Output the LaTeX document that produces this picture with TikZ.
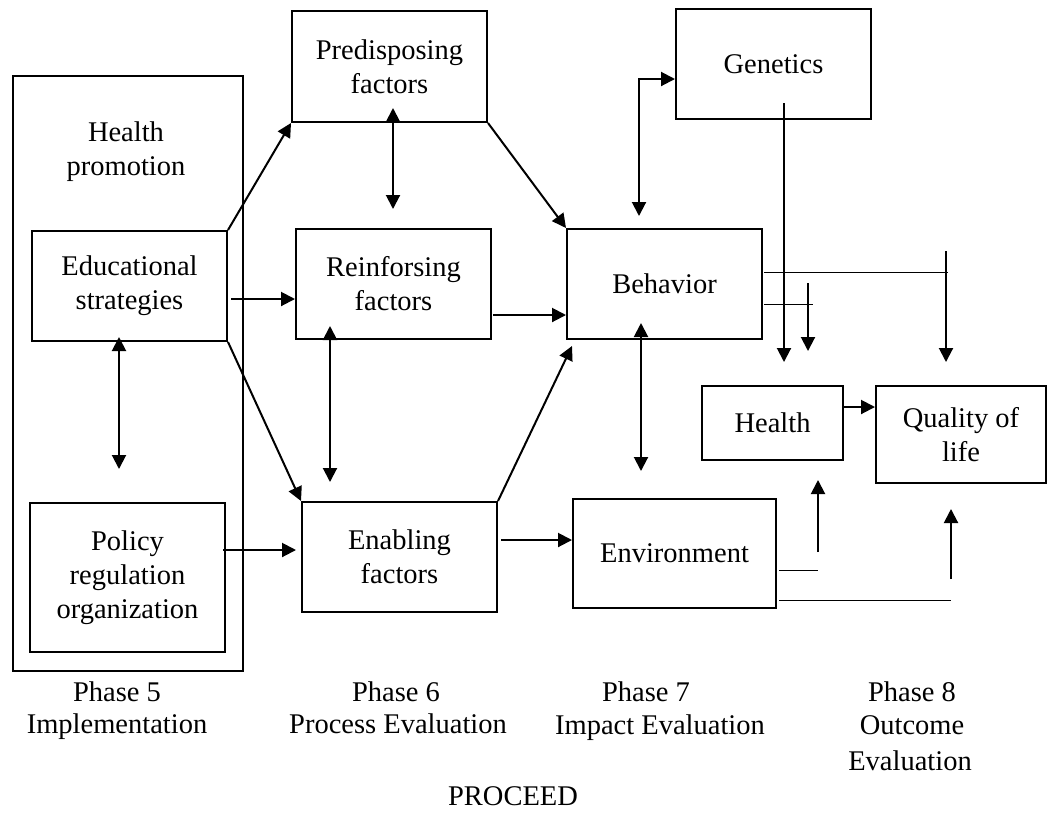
\documentclass[tikz,border=0pt]{standalone}
\usepackage{fontspec}
\setmainfont{Liberation Serif}
\usetikzlibrary{arrows.meta}
\newcommand{\myfs}{\fontsize{28.5pt}{34pt}\selectfont}
\tikzset{
  box/.style={draw,line width=2pt,inner sep=0pt,align=center,font=\myfs},
  lbl/.style={inner sep=0pt,font=\myfs},
  arr/.style={line width=2pt,-{Triangle[length=14pt,width=14pt]}},
  darr/.style={line width=2pt,{Triangle[length=14pt,width=14pt]}-{Triangle[length=14pt,width=14pt]}},
  thinline/.style={line width=1pt}
}
\begin{document}
\begin{tikzpicture}[x=1pt,y=-1pt]
\useasboundingbox (0,0) rectangle (1048,812);
% boxes
\node[box,minimum width=230pt,minimum height=595pt] (impl) at (128,373.5) {};
\node[lbl,align=center] (hp) at (126,151.4) {Health\\promotion};
\node[box,minimum width=195pt,minimum height=110pt] (edu) at (129.5,286) {Educational\\strategies};
\node[box,minimum width=195pt,minimum height=149pt] (policy) at (127.5,577.5) {Policy\\regulation\\organization};
\node[box,minimum width=195pt,minimum height=111pt] (pred) at (389.5,66.5) {Predisposing\\factors};
\node[box,minimum width=195pt,minimum height=110pt] (reinf) at (393.5,284) {Reinforsing\\factors};
\node[box,minimum width=195pt,minimum height=110pt] (enab) at (399.5,557) {Enabling\\factors};
\node[box,minimum width=195pt,minimum height=110pt] (behav) at (664.5,284) {Behavior};
\node[box,minimum width=195pt,minimum height=110pt] (gen) at (773.5,64) {Genetics};
\node[box,minimum width=203pt,minimum height=109pt] (env) at (674.5,553.5) {Environment};
\node[box,minimum width=141pt,minimum height=74pt] (health) at (772.5,423) {Health};
\node[box,minimum width=170pt,minimum height=97pt] (qol) at (961,434.5) {Quality of\\life};
% labels
\node[lbl,anchor=base] (p5a) at (117,701) {Phase 5};
\node[lbl,anchor=base] (p5b) at (117,733) {Implementation};
\node[lbl,anchor=base] (p6a) at (396,701) {Phase 6};
\node[lbl,anchor=base] (p6b) at (398,733) {Process Evaluation};
\node[lbl,anchor=base] (p7a) at (646,701) {Phase 7};
\node[lbl,anchor=base] (p7b) at (660,734) {Impact Evaluation};
\node[lbl,anchor=base] (p8a) at (912,701) {Phase 8};
\node[lbl,anchor=base] (p8b) at (912,734) {Outcome};
\node[lbl,anchor=base] (p8c) at (910,770) {Evaluation};
\node[lbl,anchor=base] (proc) at (513,805) {PROCEED};
% free-end coordinates
\coordinate (c1) at (948,272);
\coordinate (c1top) at (946,251);
\coordinate (c2) at (813,304);
\coordinate (c2top) at (808,283);
\coordinate (e1) at (818,570);
\coordinate (e1bot) at (818,552);
\coordinate (e2) at (951,600);
\coordinate (e2bot) at (951,579);
% connectors
\draw[arr] (edu.north east) -- (pred.south west);
\draw[arr] ([shift={(3,13)}]edu.east) -- ([shift={(0,15)}]reinf.west);
\draw[arr] (edu.south east) -- (enab.north west);
\draw[darr] ([shift={(-10.5,-5)}]edu.south) -- ([shift={(-8.5,-33)}]policy.north);
\draw[arr] ([shift={(-3,-27.5)}]policy.east) -- ([shift={(-5,-7)}]enab.west);
\draw[darr] ([shift={(3.5,-15)}]pred.south) -- ([shift={(-0.5,-19)}]reinf.north);
\draw[darr] ([shift={(-63.5,-14)}]reinf.south) -- ([shift={(-69.5,-19)}]enab.north);
\draw[arr] (pred.south east) -- (behav.north west);
\draw[arr] ([shift={(1,31)}]reinf.east) -- ([shift={(0,31)}]behav.west);
\draw[arr] (enab.north east) -- ([shift={(6,6)}]behav.south west);
\draw[arr] ([shift={(3,-17)}]enab.east) -- ([shift={(0,-13.5)}]env.west);
\draw[darr] ([shift={(-23.5,-17)}]behav.south) -- ([shift={(-33.5,-27)}]env.north);
\draw[darr] ([shift={(-25.5,-12)}]behav.north) |- ([shift={(0,15)}]gen.west);
\draw[arr] ([shift={(10.5,-17)}]gen.south) -- ([shift={(11.5,-23)}]health.north);
\draw[thinline] ([shift={(1,-12)}]behav.east) -- (c1);
\draw[arr] (c1top) -- ([shift={(-15,-23)}]qol.north);
\draw[thinline] ([shift={(1,20)}]behav.east) -- (c2);
\draw[arr] (c2top) -- ([shift={(35.5,-34)}]health.north);
\draw[arr] ([shift={(0,-16)}]health.east) -- ([shift={(0,-27.5)}]qol.west);
\draw[thinline] ([shift={(2,16.5)}]env.east) -- (e1);
\draw[arr] (e1bot) -- ([shift={(45.5,19)}]health.south);
\draw[thinline] ([shift={(2,46.5)}]env.east) -- (e2);
\draw[arr] (e2bot) -- ([shift={(-10,25)}]qol.south);
\end{tikzpicture}
\end{document}
